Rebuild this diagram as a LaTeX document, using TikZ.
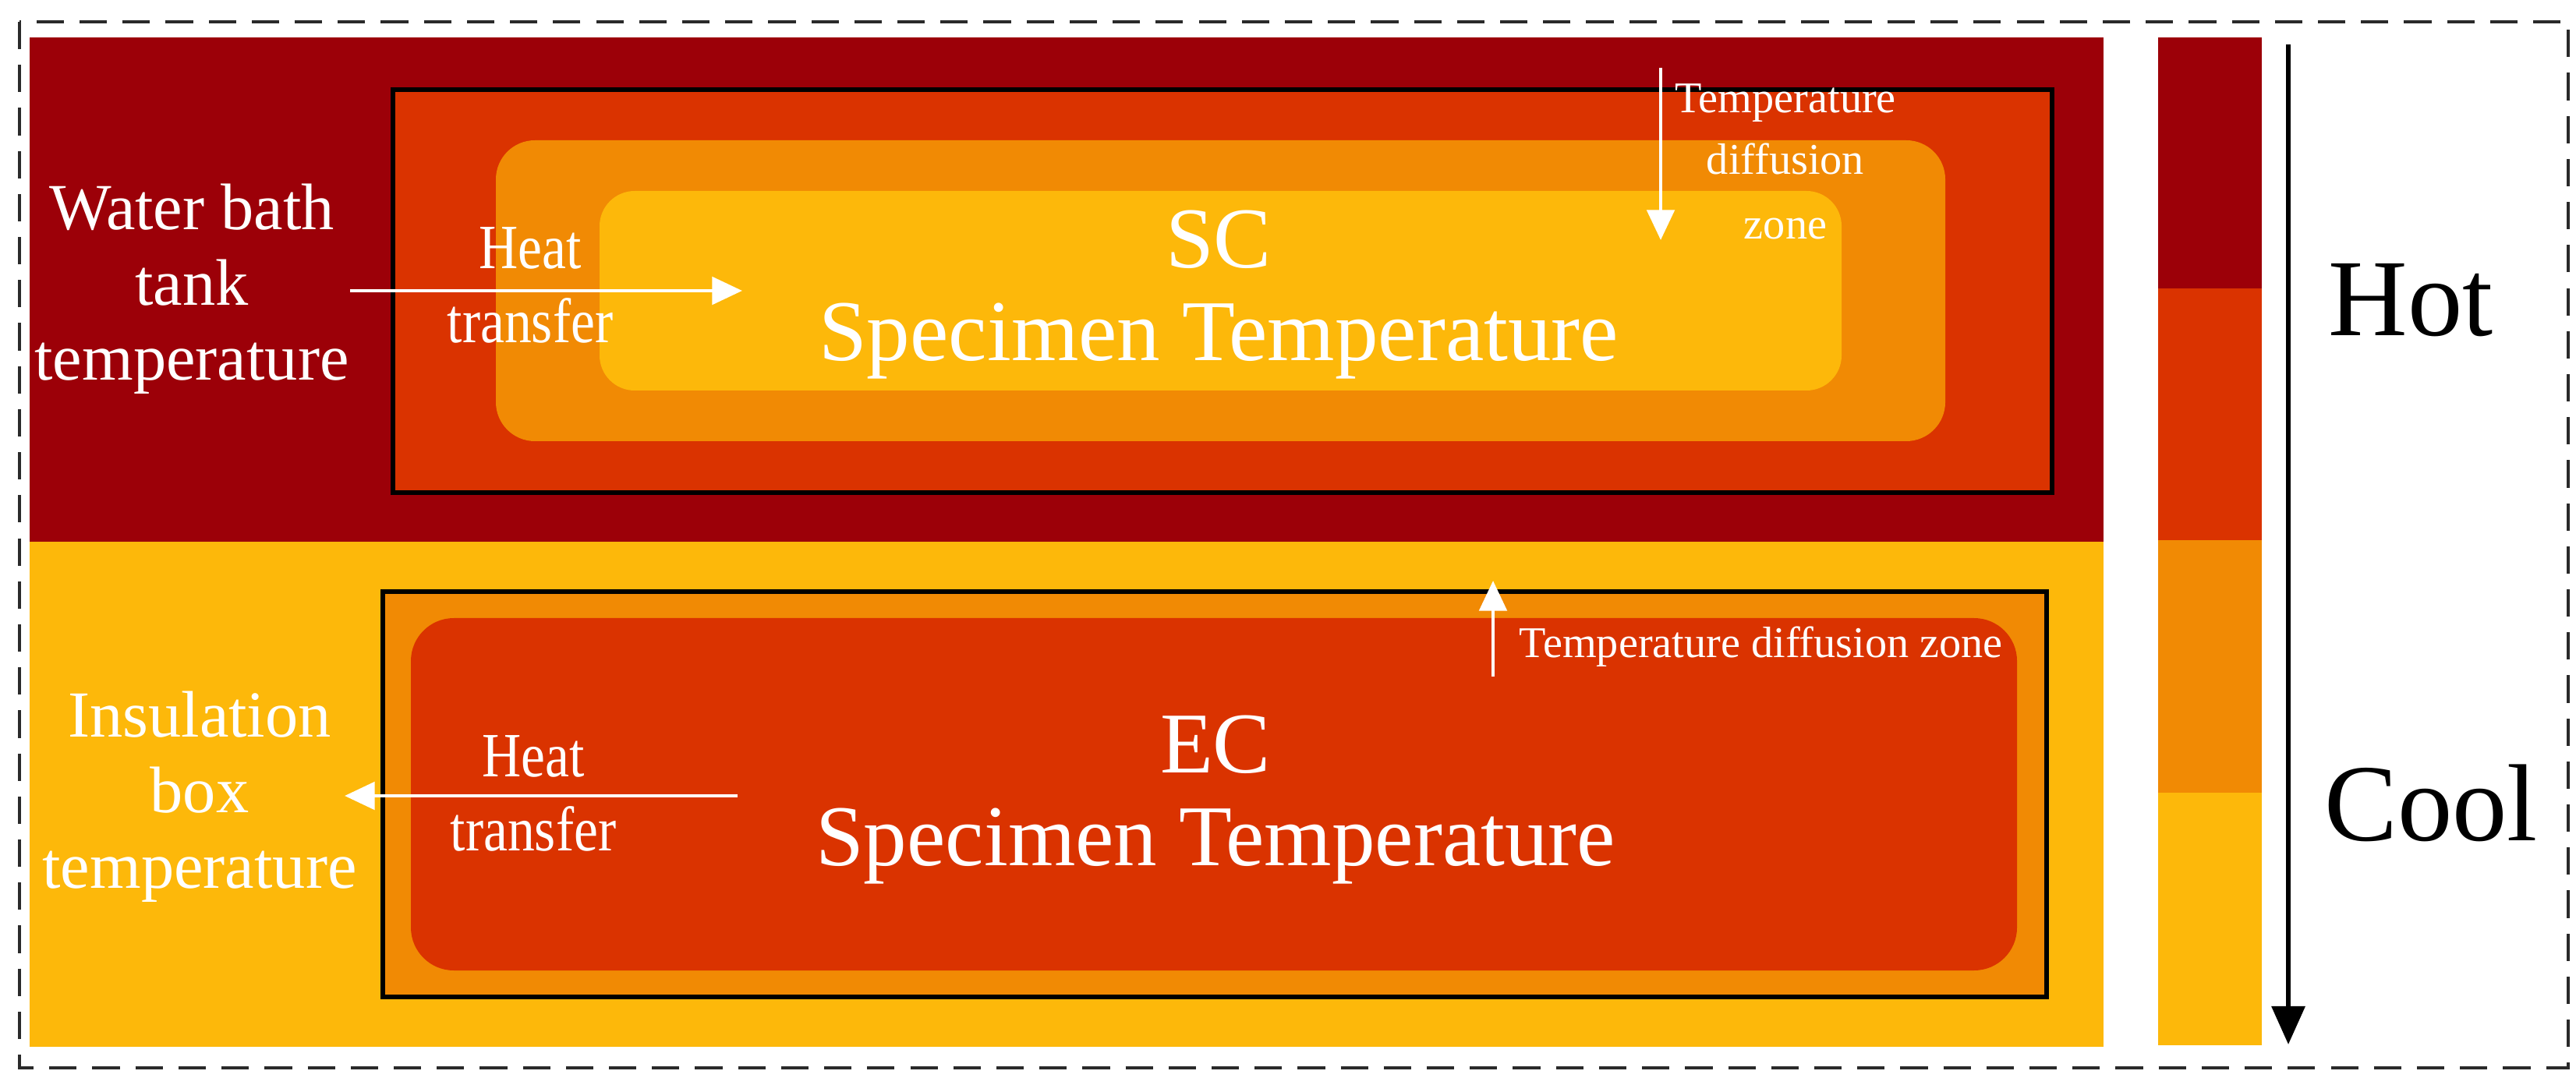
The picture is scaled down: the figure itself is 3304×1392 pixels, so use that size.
\documentclass[tikz,border=0pt]{standalone}
\usepackage{fontspec}
\setmainfont{Liberation Serif}
\newfontfamily\condfont[FakeStretch=0.86]{Liberation Serif}
\usetikzlibrary{arrows.meta}
\definecolor{hotc}{HTML}{9C0008}
\definecolor{warmc}{HTML}{DA3300}
\definecolor{mildc}{HTML}{F18A04}
\definecolor{coolc}{HTML}{FDB80A}
\definecolor{dashc}{HTML}{2A2A2A}
\tikzset{
  wtext/.style={text=white, align=center, inner sep=0pt},
  sidetext/.style={wtext, font=\fontsize{24}{27.5}\selectfont},
  heattext/.style={wtext, font=\condfont\fontsize{23}{27}\selectfont},
  spectext/.style={wtext, font=\fontsize{31.6}{34}\selectfont},
  zonetext/.style={wtext, font=\fontsize{16}{18.5}\selectfont},
  legtext/.style={inner sep=0pt, font=\fontsize{40}{44}\selectfont},
  blackbox/.style={draw=black, line width=1.7pt},
  warrow/.style={draw=white, line width=1.4pt, -{Triangle[width=10pt,length=11pt]}},
  karrow/.style={draw=black, line width=1.8pt, -{Triangle[width=12pt,length=14pt]}},
}
\begin{document}
\begin{tikzpicture}[x=0.01cm,y=-0.01cm]
\useasboundingbox (0,0) rectangle (3304,1392);
\fill[white] (0,0) rectangle (3304,1392);
% outer dashed frame
\draw[dashc, line width=1.3pt, dash pattern=on 10pt off 5.7pt] (25,28) rectangle (3294,1370);
% top (SC) region
\fill[hotc] (38,48) rectangle (2698,695);
\draw[blackbox, fill=warmc] (504,115) rectangle (2632,632);
\fill[mildc, rounded corners=0.5cm] (636,180) rectangle (2495,566);
\fill[coolc, rounded corners=0.45cm] (769,245) rectangle (2362,501);
% bottom (EC) region
\fill[coolc] (38,695) rectangle (2698,1343);
\draw[blackbox, fill=mildc] (491,759) rectangle (2625,1279);
\fill[warmc, rounded corners=0.55cm] (527,793) rectangle (2587,1245);
% legend bar
\fill[hotc] (2768,48) rectangle (2901,370);
\fill[warmc] (2768,370) rectangle (2901,693);
\fill[mildc] (2768,693) rectangle (2901,1017);
\fill[coolc] (2768,1017) rectangle (2901,1341);
\coordinate (legtop) at (2935,57);
\coordinate (legbot) at (2935,1340);
\draw[karrow] (legtop) -- (legbot);
\node[legtext] (hot) at (3092,385) {Hot};
\node[legtext] (cool) at (3118,1030) {Cool};
% SC texts
\node[sidetext] (water) at (246,371) {Water bath\\tank\\temperature};
\node[heattext] (heatsc) at (680,366) {Heat\\transfer};
\coordinate (scA) at (449,373);
\coordinate (scB) at (952,373);
\draw[warrow] (scA) -- (scB);
\node[spectext] (sc) at (1563,378) {SC\\Specimen Temperature};
\node[zonetext] (zonesc) at (2290,207) {Temperature\\[4pt]diffusion\\[5pt]zone};
\coordinate (zdA) at (2130,87);
\coordinate (zdB) at (2130,308);
\draw[warrow] (zdA) -- (zdB);
% EC texts
\node[sidetext] (insul) at (256,1022) {Insulation\\box\\temperature};
\node[heattext] (heatec) at (684,1018) {Heat\\transfer};
\coordinate (ecA) at (946,1021);
\coordinate (ecB) at (442,1021);
\draw[warrow] (ecA) -- (ecB);
\node[spectext] (ec) at (1559,1026) {EC\\Specimen Temperature};
\node[zonetext, anchor=west] (zoneec) at (1948,830) {Temperature diffusion zone};
\coordinate (zuA) at (1915,868);
\coordinate (zuB) at (1915,745);
\draw[warrow] (zuA) -- (zuB);
\end{tikzpicture}
\end{document}
